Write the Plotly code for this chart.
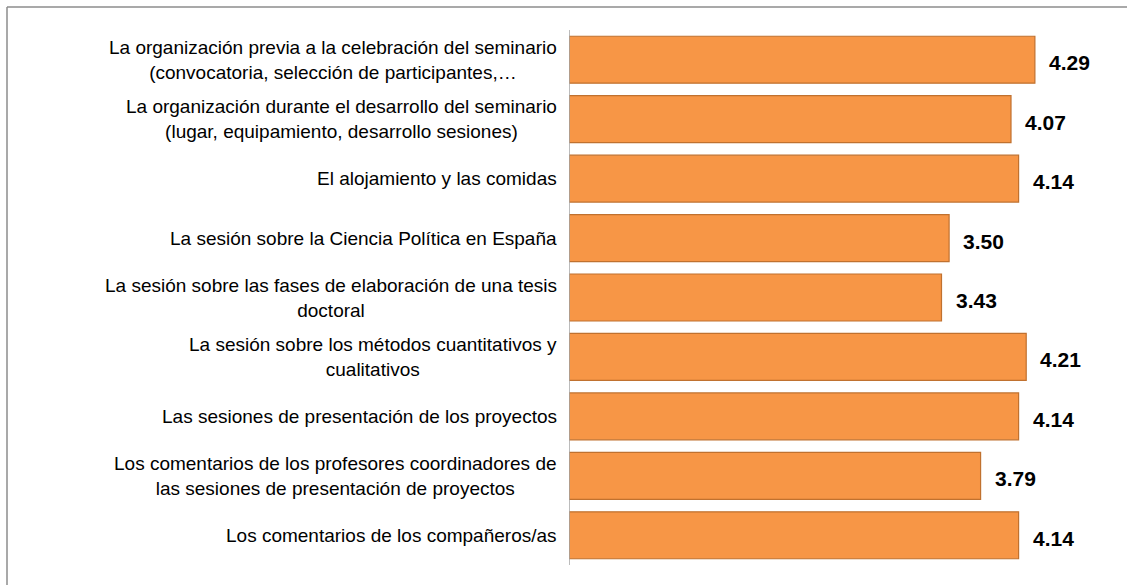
import plotly.graph_objects as go

categories = [
    "La organización previa a la celebración del seminario<br>(convocatoria, selección de participantes,…",
    "La organización durante el desarrollo del seminario<br>(lugar, equipamiento, desarrollo sesiones)",
    "El alojamiento y las comidas",
    "La sesión sobre la Ciencia Política en España",
    "La sesión sobre las fases de elaboración de una tesis<br>doctoral",
    "La sesión sobre los métodos cuantitativos y<br>cualitativos",
    "Las sesiones de presentación de los proyectos",
    "Los comentarios de los profesores coordinadores de<br>las sesiones de presentación de proyectos",
    "Los comentarios de los compañeros/as",
]
values = [4.29, 4.07, 4.14, 3.50, 3.43, 4.21, 4.14, 3.79, 4.14]

W, H = 1127, 585
ML, MR, MT, MB = 569, 15, 30, 20
pw = W - ML - MR
ph = H - MT - MB

fig = go.Figure()
fig.add_trace(go.Bar(
    y=list(range(len(categories))),
    x=values,
    orientation="h",
    marker=dict(color="#F79646", line=dict(color="#C0712F", width=1.2)),
    hoverinfo="skip",
))

font_fam = "Liberation Sans, Arial, sans-serif"
annotations = []
for i, (c, v) in enumerate(zip(categories, values)):
    annotations.append(dict(
        x=-10 / pw, xref="paper", y=i, yref="y", text=c, showarrow=False,
        xanchor="right", yanchor="middle", align="center",
        font=dict(family=font_fam, size=19, color="#000000"),
    ))
    annotations.append(dict(
        x=v, xref="x", y=i + 0.05, yref="y", text=f"<b>{v:.2f}</b>", showarrow=False,
        xanchor="left", yanchor="middle", xshift=12,
        font=dict(family=font_fam, size=21, color="#000000"),
    ))

bx0 = (7 - ML) / pw
by1 = (H - MB - 7) / ph
fig.update_layout(
    width=W, height=H,
    margin=dict(l=ML, r=MR, t=MT, b=MB),
    paper_bgcolor="white", plot_bgcolor="white",
    bargap=0.21,
    showlegend=False,
    xaxis=dict(range=[0, 5], visible=False),
    yaxis=dict(range=[len(categories) - 0.5, -0.5], showticklabels=False, ticks="",
               showgrid=False, zeroline=False, showline=False),
    annotations=annotations,
    shapes=[
        dict(type="line", xref="paper", yref="paper",
             x0=bx0, x1=(1140 - ML) / pw, y0=by1, y1=by1,
             line=dict(color="#8C8C8C", width=1.5), layer="below"),
        dict(type="line", xref="paper", yref="paper",
             x0=bx0, x1=bx0, y0=by1, y1=-(MB + 40) / ph,
             line=dict(color="#8C8C8C", width=1.5), layer="below"),
        dict(type="line", xref="x", yref="paper", x0=0, x1=0, y0=0, y1=1,
             line=dict(color="#A6A6A6", width=1.5)),
    ],
)

fig.write_html("out.html", config={"displayModeBar": False, "staticPlot": True},
               post_script="document.body.style.margin='0';document.body.style.overflow='hidden';")
